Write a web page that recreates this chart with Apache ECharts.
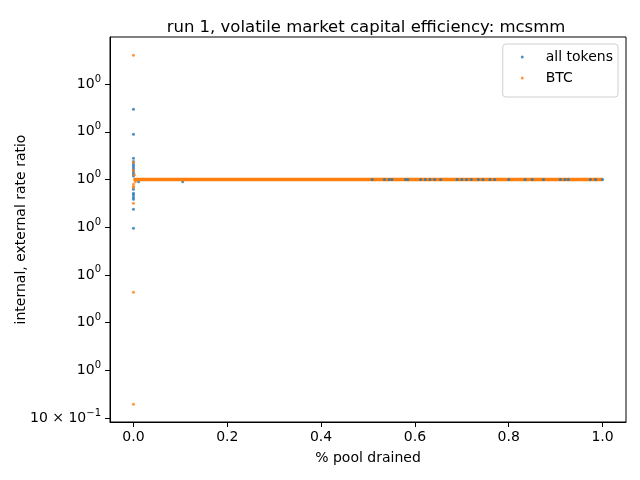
<!DOCTYPE html>
<html>
<head>
<meta charset="utf-8">
<script src="https://cdn.jsdelivr.net/npm/echarts@6/dist/echarts.min.js"></script>
<style>
  html, body { margin: 0; padding: 0; background: #fff; }
  #chart { width: 640px; height: 480px; }
</style>
</head>
<body>
<div id="chart"></div>
<script>
// x = fraction of pool drained, y = internal / external rate ratio
const xTicks = [0, 0.2, 0.4, 0.6, 0.8, 1.0];
const yTicks = [0.95, 0.96, 0.97, 0.98, 0.99, 1.0, 1.01, 1.02];
const yTickLabels = [
    "{n|10 \u00d7 10}{s|\u22121}",
    "{n|10}{s|0}", "{n|10}{s|0}", "{n|10}{s|0}", "{n|10}{s|0}",
    "{n|10}{s|0}", "{n|10}{s|0}", "{n|10}{s|0}"
];

// all tokens, early spread near zero drain
const allTokensSpread = [
    [0, 1.01472], [0, 1.00948], [0, 1.00444], [0, 1.00377], [0, 1.00325],
    [0, 1.00283], [0, 1.00241], [0, 1.00199], [0, 1.00157], [0, 1.00115],
    [0, 1.00073], [0, 0.99795], [0, 0.99711], [0, 0.99675], [0, 0.99627],
    [0, 0.99585], [0, 0.99375], [0, 0.98977], [0.011, 0.99954], [0.105, 0.99954]
];
// all tokens points peeking out along the flat line
const allTokensFlatX = [
    0.509, 0.535, 0.545, 0.551, 0.58, 0.585, 0.612, 0.622, 0.632, 0.642,
    0.655, 0.69, 0.70, 0.71, 0.72, 0.735, 0.745, 0.76, 0.77, 0.80,
    0.835, 0.85, 0.874, 0.91, 0.92, 0.927, 0.974, 0.985, 1.0
];
const btcSpread = [
    [0, 1.02604], [0, 1.00361], [0, 0.99836], [0, 0.99501], [0, 0.97635],
    [0, 0.95287], [0, 1.0019], [0.002, 1.001], [0.004, 0.9995], [0, 0.999], [0, 0.9985]
];
const btcFlat = [[0, 1.0], [1.0, 1.0]];

const blue = "#1f77b4";
const orange = "#ff7f0e";
const font = "DejaVu Sans";

const chart = echarts.init(document.getElementById("chart"));

chart.setOption({
    backgroundColor: "#ffffff",
    animation: false,
    textStyle: { fontFamily: font, color: "#000" },
    title: {
        text: "run 1, volatile market capital efficiency: mcsmm",
        left: 361,
        textAlign: "center",
        top: 14,
        textStyle: { fontFamily: font, fontSize: 16.5, fontWeight: "normal", color: "#000" },
    },
    grid: {
        left: 110,
        right: 14,
        top: 37,
        bottom: 58,
        show: true,
        borderColor: "#000",
        borderWidth: 1,
    },
    legend: {
        orient: "vertical",
        right: 22,
        top: 44,
        padding: [6, 5, 12, 18],
        itemGap: 7,
        itemWidth: 3,
        itemHeight: 3,
        borderColor: "#d0d0d0",
        borderWidth: 1,
        borderRadius: 3,
        textStyle: { fontFamily: font, fontSize: 14, color: "#000", padding: [0, 0, 0, 17] },
        data: [
            { name: "all tokens", icon: "circle" },
            { name: "BTC", icon: "circle" },
        ],
    },
    xAxis: {
        type: "value",
        min: -0.05,
        max: 1.05,
        name: "% pool drained",
        nameLocation: "middle",
        nameGap: 29,
        nameMoveOverlap: false,
        nameTextStyle: { fontFamily: font, fontSize: 14, color: "#000" },
        splitLine: { show: false },
        axisLine: { show: true, onZero: false, lineStyle: { color: "#000" } },
        axisTick: { show: true, customValues: xTicks, length: 5, lineStyle: { color: "#000" } },
        axisLabel: {
            customValues: xTicks,
            margin: 8,
            fontFamily: font,
            fontSize: 14,
            color: "#000",
            formatter: (v) => v.toFixed(1),
        },
    },
    yAxis: {
        type: "value",
        min: 0.94916,
        max: 1.02987,
        name: "internal, external rate ratio",
        nameLocation: "middle",
        nameGap: 82,
        nameMoveOverlap: false,
        nameTextStyle: { fontFamily: font, fontSize: 14, color: "#000" },
        splitLine: { show: false },
        axisLine: { show: true, onZero: false, lineStyle: { color: "#000" } },
        axisTick: { show: true, customValues: yTicks, length: 5, lineStyle: { color: "#000" } },
        axisLabel: {
            customValues: yTicks,
            margin: 9,
            fontFamily: font,
            fontSize: 14,
            color: "#000",
            formatter: (v) => {
                const i = yTicks.findIndex((t) => Math.abs(t - v) < 1e-6);
                return i >= 0 ? yTickLabels[i] : "";
            },
            rich: {
                n: { fontFamily: font, fontSize: 14, lineHeight: 20, color: "#000" },
                s: { fontFamily: font, fontSize: 10, lineHeight: 12, verticalAlign: "top", color: "#000" },
            },
        },
    },
    series: [
        {
            name: "all tokens",
            type: "scatter",
            symbol: "circle",
            symbolSize: 3,
            itemStyle: { color: blue },
            data: allTokensSpread,
            z: 2,
        },
        {
            name: "BTC",
            type: "scatter",
            symbol: "circle",
            symbolSize: 3,
            itemStyle: { color: orange },
            data: btcSpread,
            z: 4,
        },
        {
            name: "BTC",
            type: "line",
            showSymbol: false,
            lineStyle: { color: orange, width: 3.5 },
            itemStyle: { color: orange },
            data: btcFlat,
            z: 3,
        },
        {
            name: "all tokens",
            type: "scatter",
            symbol: "circle",
            symbolSize: 3,
            itemStyle: { color: blue },
            data: allTokensFlatX.map((x) => [x, 1.0]),
            z: 5,
        },
    ],
});
</script>
</body>
</html>
